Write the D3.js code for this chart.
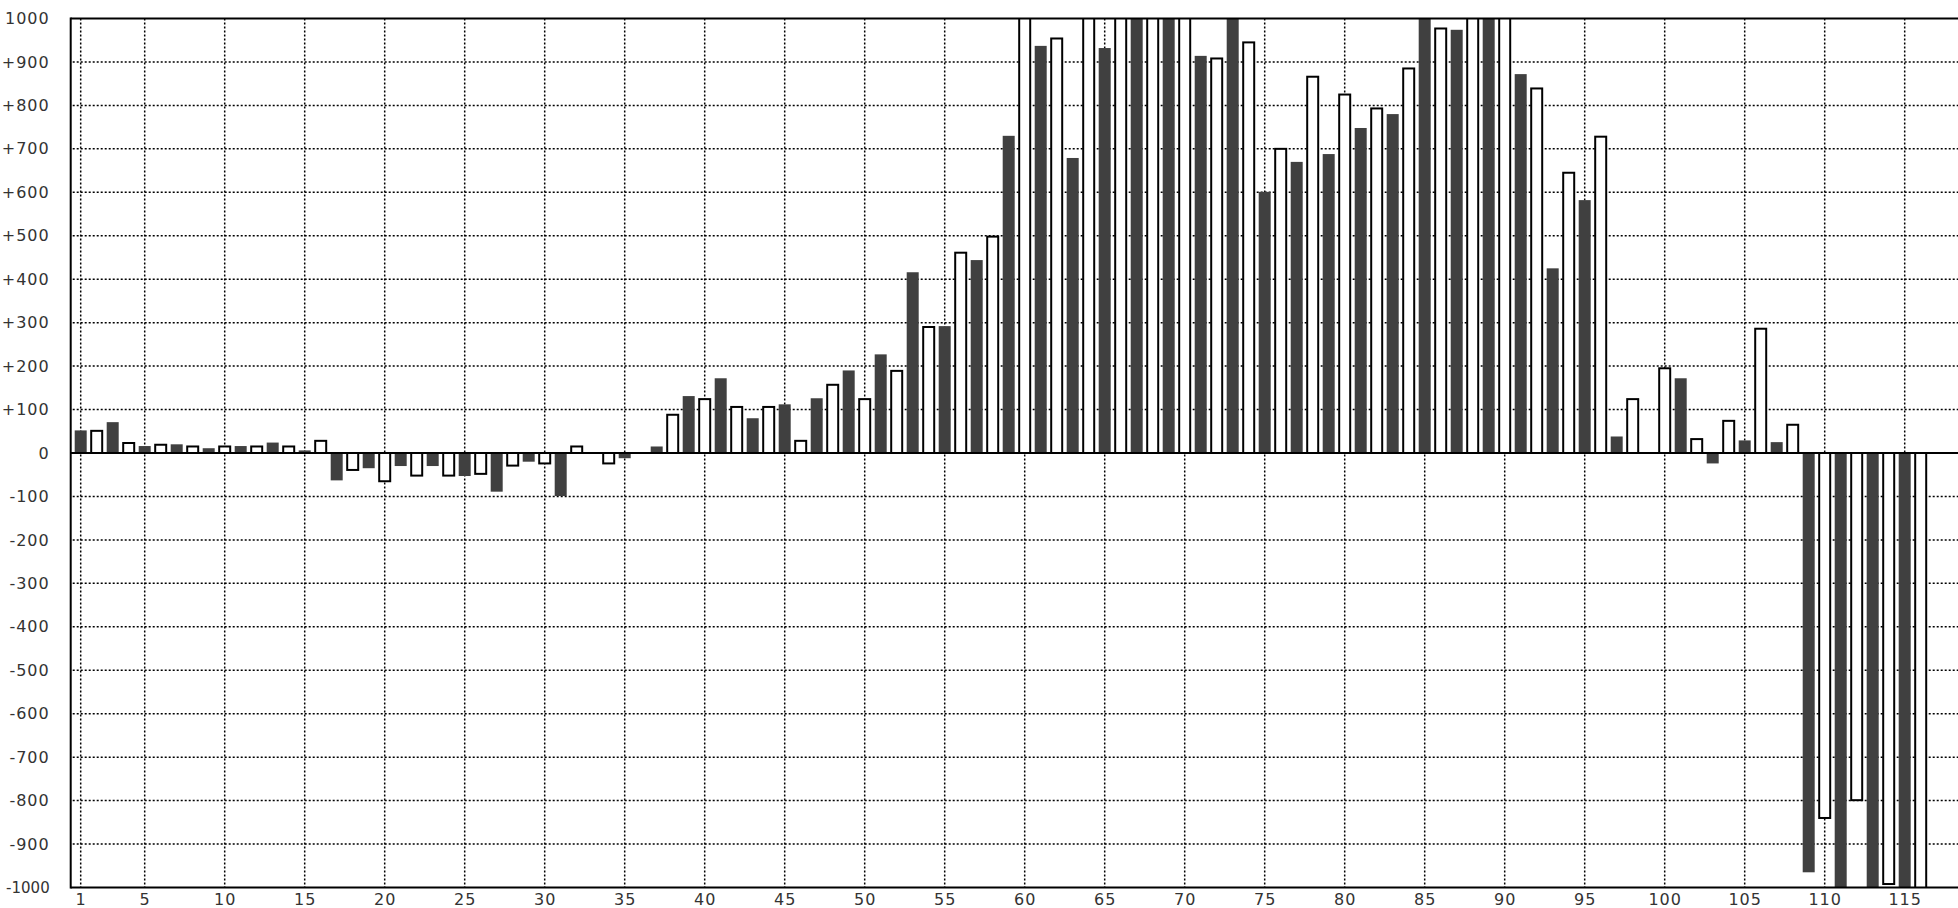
<!DOCTYPE html>
<html><head><meta charset="utf-8">
<script src="https://cdn.jsdelivr.net/npm/d3@7"></script>
<style>html,body{margin:0;padding:0;background:#fff;overflow:hidden}</style>
</head><body><svg id="chart" width="1958" height="908"></svg>
<script>
// ---- data ----
const darkCategories = [1,3,5,7,9,11,13,15,17,19,21,23,25,27,29,31,33,35,37,39,41,43,45,47,49,51,53,55,57,59,61,63,65,67,69,71,73,75,77,79,81,83,85,87,89,91,93,95,97,99,101,103,105,107,109,111,113,115];
const darkValues = [52,71,16,20,11,16,24,6,-63,-35,-30,-30,-53,-89,-20,-99,0,-12,15,131,172,80,112,126,190,227,416,292,444,730,937,679,932,1050,1050,914,1050,601,670,688,748,780,1050,974,1050,872,425,582,38,0,172,-24,29,25,-965,-1050,-1050,-1050];
const lightCategories = [2,4,6,8,10,12,14,16,18,20,22,24,26,28,30,32,34,36,38,40,42,44,46,48,50,52,54,56,58,60,62,64,66,68,70,72,74,76,78,80,82,84,86,88,90,92,94,96,98,100,102,104,106,108,110,112,114,116];
const lightValues = [51,23,19,15,15,15,15,28,-39,-65,-52,-52,-48,-29,-24,15,-24,0,88,124,106,106,28,157,124,189,290,461,498,1050,954,1050,1050,1050,1050,908,945,700,866,825,793,885,977,1050,1050,839,645,728,124,195,32,74,286,65,-840,-799,-992,-1050];
const xTickValues = [1,5,10,15,20,25,30,35,40,45,50,55,60,65,70,75,80,85,90,95,100,105,110,115];
const yTickValues = [-1000,-900,-800,-700,-600,-500,-400,-300,-200,-100,0,100,200,300,400,500,600,700,800,900,1000];
const yTickLabels = ["-1000","-900","-800","-700","-600","-500","-400","-300","-200","-100","0","+100","+200","+300","+400","+500","+600","+700","+800","+900","1000"];

// ---- layout ----
const plotLeft = 70.7, plotTop = 18.5, plotBottom = 887.5, plotRight = 1960;
const svg = d3.select("#chart");

const x = d3.scaleLinear().domain([1, 115]).range([80.7, 80.7 + 114 * 16]);
const y = d3.scaleLinear().domain([-1000, 1000]).range([plotBottom, plotTop]);

svg.append("defs").append("clipPath").attr("id", "plotclip")
  .append("rect").attr("x", plotLeft).attr("y", plotTop).attr("width", plotRight - plotLeft).attr("height", plotBottom - plotTop);

// grid
const grid = svg.append("g").attr("stroke", "#000").attr("stroke-width", 1.5).attr("stroke-dasharray", "2,2");
grid.selectAll("line.h").data(yTickValues.filter(v => v !== 0 && Math.abs(v) !== 1000)).enter().append("line")
  .attr("x1", plotLeft + 2).attr("x2", plotRight).attr("y1", d => y(d)).attr("y2", d => y(d));
grid.selectAll("line.v").data(xTickValues).enter().append("line")
  .attr("x1", d => x(d)).attr("x2", d => x(d)).attr("y1", plotTop).attr("y2", plotBottom);

// bars
const bars = svg.append("g").attr("clip-path", "url(#plotclip)");
const darkData = darkCategories.map((c, i) => ({c, v: darkValues[i]}));
const lightData = lightCategories.map((c, i) => ({c, v: lightValues[i]}));
bars.selectAll("rect.dark").data(darkData.filter(d => d.v !== 0)).enter().append("rect")
  .attr("class", "dark")
  .attr("x", d => x(d.c) - 6).attr("width", 12)
  .attr("y", d => y(Math.max(0, d.v))).attr("height", d => Math.abs(y(d.v) - y(0)))
  .attr("fill", "#404040");
bars.selectAll("rect.light").data(lightData.filter(d => d.v !== 0)).enter().append("rect")
  .attr("class", "light")
  .attr("x", d => x(d.c) - 5.5).attr("width", 11)
  .attr("y", d => y(Math.max(0, d.v))).attr("height", d => Math.abs(y(d.v) - y(0)))
  .attr("fill", "#fff").attr("stroke", "#000").attr("stroke-width", 2);

// frame lines
const frame = svg.append("g").attr("stroke", "#000").attr("stroke-width", 2);
frame.append("line").attr("x1", plotLeft).attr("x2", plotRight).attr("y1", y(0)).attr("y2", y(0));
frame.append("line").attr("x1", plotLeft).attr("x2", plotRight).attr("y1", plotTop).attr("y2", plotTop);
frame.append("line").attr("x1", plotLeft).attr("x2", plotRight).attr("y1", plotBottom).attr("y2", plotBottom);
frame.append("line").attr("x1", plotLeft).attr("x2", plotLeft).attr("y1", plotTop - 1).attr("y2", plotBottom + 1);

// axes
const yAxis = svg.append("g").attr("transform", `translate(${plotLeft},0)`)
  .call(d3.axisLeft(y).tickValues(yTickValues).tickFormat((d, i) => yTickLabels[i]).tickSize(0).tickPadding(21));
const xAxis = svg.append("g").attr("transform", `translate(0,${plotBottom})`)
  .call(d3.axisBottom(x).tickValues(xTickValues).tickSize(0).tickPadding(6));
[yAxis, xAxis].forEach(a => {
  a.select(".domain").remove();
  a.selectAll("text").attr("font-family", "DejaVu Sans, sans-serif").attr("font-size", 16)
    .attr("letter-spacing", "1px").attr("fill", "#333");
});
// keep the widest label inside the picture
yAxis.selectAll("text").filter(d => d === -1000).attr("letter-spacing", "0px").attr("font-size", 15);
</script></body></html>
